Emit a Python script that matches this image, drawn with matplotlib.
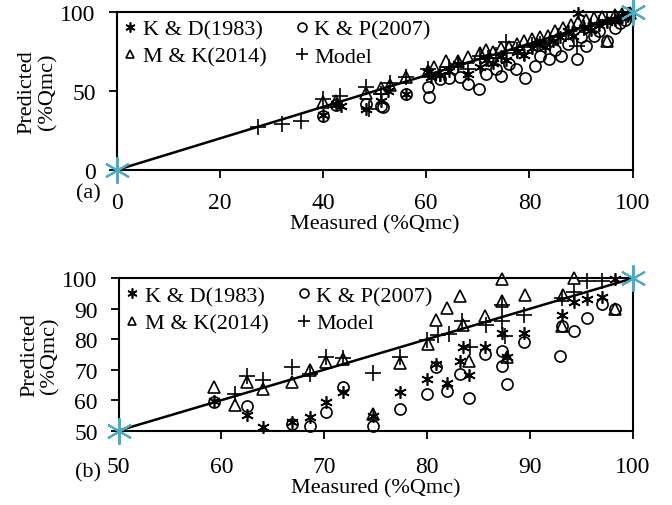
import matplotlib
matplotlib.use("Agg")
import matplotlib.pyplot as plt

plt.rcParams['font.family'] = ['Liberation Serif', 'DejaVu Serif']

# ---------------- panel (a): full range ----------------
kd_a_x = [40.0, 42.6, 43.5, 48.4, 51.3, 52.5, 56.1, 60.3, 61.0, 62.6, 64.5, 66.1,
          68.0, 70.5, 71.6, 73.0, 74.5, 75.5, 77.5, 79.0, 80.5, 81.4, 83.0, 84.5,
          86.0, 87.5, 88.5, 89.5, 90.5, 92.0, 93.5, 95.0, 96.5, 98.0, 99.0]
kd_a_y = [35.0, 42.0, 40.5, 38.6, 44.0, 50.0, 48.0, 62.0, 59.0, 60.0, 62.5, 67.0,
          61.0, 65.0, 70.0, 68.0, 72.0, 70.0, 75.0, 73.0, 77.0, 80.0, 78.0, 82.0,
          84.0, 88.0, 85.0, 99.4, 90.0, 89.0, 92.0, 94.0, 95.0, 97.0, 98.0]

kp_a_x = [40.0, 42.6, 48.4, 51.3, 51.6, 56.1, 60.3, 60.6, 62.6, 64.5, 66.5, 68.0,
          70.2, 71.6, 73.5, 74.5, 76.0, 77.4, 79.2, 81.0, 82.0, 83.8, 85.0, 86.1,
          87.5, 89.3, 90.0, 90.9, 92.5, 93.5, 95.1, 96.5, 97.5, 98.5]
kp_a_y = [34.4, 41.0, 41.8, 40.5, 39.7, 48.1, 52.3, 46.0, 57.6, 58.0, 59.0, 54.4,
          51.3, 61.0, 64.0, 59.7, 67.0, 63.9, 58.2, 66.0, 72.0, 70.3, 76.0, 72.3,
          80.0, 70.3, 84.0, 78.7, 85.0, 88.0, 81.8, 90.0, 93.0, 95.0]

mk_a_x = [40.0, 42.6, 48.4, 51.3, 53.0, 56.1, 60.3, 61.5, 63.9, 66.1, 68.0, 70.5,
          71.6, 73.0, 74.5, 76.0, 77.5, 79.0, 80.5, 82.0, 83.5, 85.0, 86.5, 88.0,
          89.5, 91.0, 92.5, 94.0, 95.1, 96.5, 98.0, 99.5]
mk_a_y = [42.8, 44.0, 49.0, 52.0, 54.0, 58.7, 63.0, 65.0, 69.2, 69.0, 71.3, 74.0,
          76.0, 75.0, 77.0, 78.0, 80.0, 82.0, 83.0, 84.0, 85.0, 88.0, 90.0, 92.0,
          93.5, 95.0, 96.0, 97.0, 81.8, 98.0, 99.0, 99.5]

model_a_x = [27.4, 32.0, 35.8, 40.0, 43.2, 48.4, 49.0, 51.3, 53.0, 56.1, 60.3, 62.6,
             64.5, 66.1, 68.0, 70.5, 72.0, 73.5, 75.5, 77.5, 79.0, 80.5, 82.0, 84.0,
             85.5, 87.0, 89.3, 90.5, 92.0, 93.5, 95.0, 96.5, 98.0, 99.0]
model_a_y = [27.0, 29.1, 31.2, 45.0, 47.0, 52.5, 38.6, 48.0, 55.0, 58.7, 64.0, 60.8,
             65.0, 67.1, 63.9, 72.0, 71.0, 73.0, 80.8, 76.0, 74.0, 79.0, 80.0, 82.0,
             85.0, 86.0, 78.7, 90.0, 91.0, 93.0, 95.0, 96.0, 97.5, 98.5]

# ---------------- panel (b): 50-100 range ----------------
kd_b_x = [59.3, 62.5, 64.0, 66.9, 68.6, 70.2, 71.8, 74.7, 77.4, 80.0, 80.9, 81.9,
          83.2, 83.5, 84.1, 85.6, 87.3, 87.8, 89.4, 93.1, 94.3, 95.6, 97.0, 98.3]
kd_b_y = [59.8, 55.1, 51.2, 52.8, 54.6, 59.3, 62.8, 54.8, 62.7, 67.0, 71.8, 65.5,
          72.7, 77.6, 68.2, 77.6, 82.0, 74.1, 82.2, 88.0, 92.2, 93.2, 94.0, 99.8]

kp_b_x = [59.3, 62.5, 66.9, 68.6, 70.2, 71.8, 74.7, 77.4, 80.0, 80.9, 81.9, 83.2,
          84.1, 85.6, 87.3, 87.3, 87.8, 89.4, 92.9, 93.1, 94.3, 95.6, 97.0, 98.3]
kp_b_y = [59.3, 58.0, 52.3, 51.6, 56.2, 64.2, 51.4, 57.1, 61.9, 70.9, 63.1, 68.6,
          60.8, 75.2, 76.3, 71.3, 65.4, 79.0, 74.4, 84.5, 82.8, 86.9, 91.6, 90.0]

mk_b_x = [59.3, 61.3, 62.5, 64.0, 66.9, 68.6, 70.2, 71.8, 74.7, 77.4, 80.1, 80.9,
          81.9, 83.2, 83.5, 84.1, 85.6, 87.3, 87.3, 87.8, 89.5, 93.1, 93.2, 94.3,
          98.3]
mk_b_y = [64.2, 58.4, 66.1, 63.5, 65.8, 69.9, 72.4, 73.6, 55.4, 72.2, 78.5, 86.2,
          90.1, 94.2, 84.6, 73.0, 87.7, 99.7, 92.6, 74.1, 94.6, 84.5, 94.6, 100.0,
          90.0]

model_b_x = [61.3, 62.5, 64.0, 66.9, 68.6, 70.2, 71.8, 74.7, 77.4, 80.0, 81.1, 82.1,
             83.4, 84.2, 85.7, 87.3, 87.3, 87.6, 89.4, 93.1, 94.3, 95.6, 97.0]
model_b_y = [62.0, 68.0, 66.6, 70.8, 68.6, 74.2, 73.7, 68.8, 74.1, 79.6, 81.5, 81.6,
             85.9, 77.4, 84.6, 91.1, 86.0, 81.1, 87.8, 93.7, 95.4, 99.0, 99.0]

# 1:1 reference line endpoints
line_a = [0, 100]
line_b = [50, 100]

x_ticks_a = [0, 20, 40, 60, 80, 100]
y_ticks_a = [0, 50, 100]
x_ticks_b = [50, 60, 70, 80, 90, 100]
y_ticks_b = [50, 60, 70, 80, 90, 100]

series_labels = ['K & D(1983)', 'K & P(2007)', 'M & K(2014)', 'Model']
star = (6, 2, 0)
FS = 17

fig = plt.figure(figsize=(6.72, 5.06), dpi=100)
ax_a = fig.add_axes([0.1735, 0.662, 0.768, 0.312])
ax_b = fig.add_axes([0.1765, 0.147, 0.765, 0.301])


def draw(ax, data, ref, xt, yt, tag, tag_y, xpad):
    mk = dict(linestyle='none', color='black', markerfacecolor='none',
              markeredgewidth=1.2, clip_on=False, zorder=3)
    (kdx, kdy), (kpx, kpy), (mkx, mky), (mox, moy) = data
    h_kd, = ax.plot(kdx, kdy, marker=star, markersize=9, label=series_labels[0], **mk)
    h_kp, = ax.plot(kpx, kpy, marker='o', markersize=8, label=series_labels[1], **mk)
    h_mk, = ax.plot(mkx, mky, marker='^', markersize=8, label=series_labels[2], **mk)
    h_mo, = ax.plot(mox, moy, marker='+', markersize=11, label=series_labels[3], **mk)
    ax.plot(ref, ref, color='black', linewidth=1.8, zorder=4,
            marker=star, markersize=19, markeredgecolor='#4bacc6',
            markeredgewidth=1.5, clip_on=False)
    ax.set_xlim(ref[0], ref[1])
    ax.set_ylim(ref[0], ref[1])
    ax.set_xticks(xt)
    ax.set_yticks(yt)
    ax.tick_params(direction='out', length=6, width=1.3, labelsize=FS)
    ax.tick_params(axis='x', pad=xpad)
    ax.tick_params(axis='y', pad=9)
    for s in ax.spines.values():
        s.set_linewidth(1.5)
    ax.set_xlabel('Measured (%Qmc)', fontsize=16, labelpad=1)
    ax.set_ylabel('Predicted\n(%Qmc)', fontsize=16, linespacing=1.1,
                  va='center', ha='center')
    ax.yaxis.set_label_coords(-0.153, 0.5)
    ax.legend([h_kd, h_mk, h_kp, h_mo],
              [series_labels[0], series_labels[2], series_labels[1], series_labels[3]],
              ncol=2, loc='upper left', bbox_to_anchor=(-0.012, 1.04),
              frameon=False, fontsize=16, handlelength=0.6,
              handletextpad=0.25, columnspacing=1.3, labelspacing=0.3,
              markerscale=0.8, borderaxespad=0.2)
    fig.text(0.131, tag_y, tag, fontsize=16, ha='center', va='center')


draw(ax_a, [(kd_a_x, kd_a_y), (kp_a_x, kp_a_y), (mk_a_x, mk_a_y), (model_a_x, model_a_y)],
     line_a, x_ticks_a, y_ticks_a, '(a)', 0.617, 9.5)
draw(ax_b, [(kd_b_x, kd_b_y), (kp_b_x, kp_b_y), (mk_b_x, mk_b_y), (model_b_x, model_b_y)],
     line_b, x_ticks_b, y_ticks_b, '(b)', 0.065, 12)

fig.savefig('out.png', dpi=100)
